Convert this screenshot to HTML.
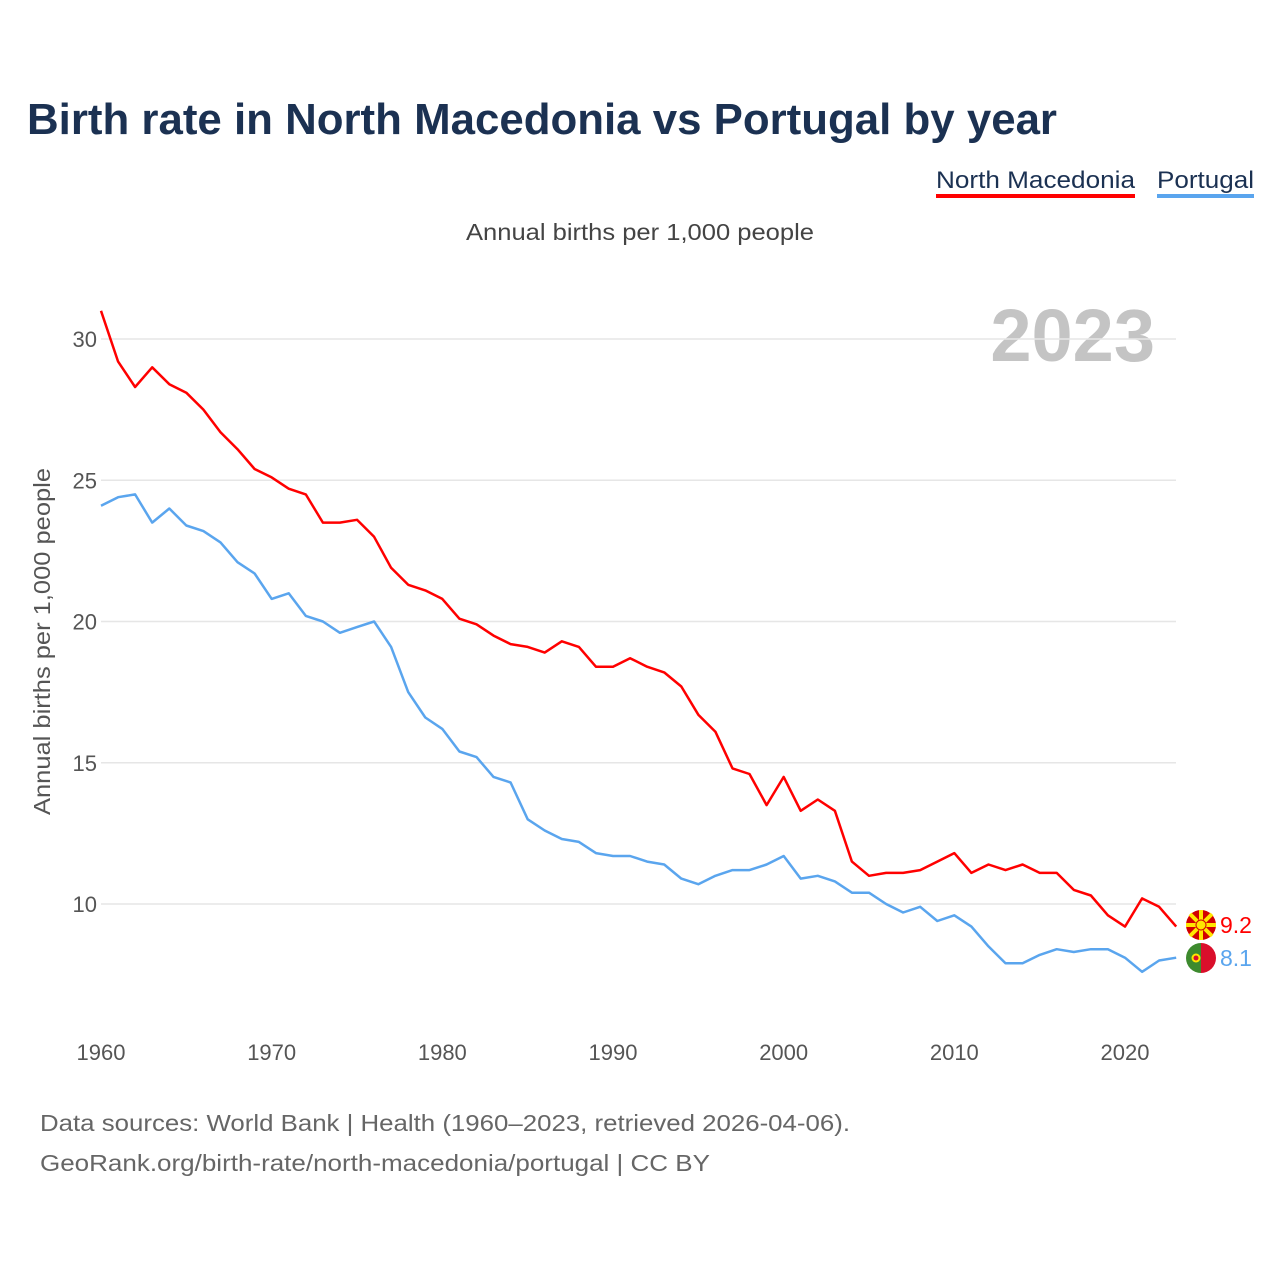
<!DOCTYPE html>
<html><head><meta charset="utf-8"><style>
body{margin:0;background:#fff;width:1280px;height:1280px;overflow:hidden;font-family:"Liberation Sans",sans-serif}
</style></head><body>
<svg width="1280" height="1280" font-family="Liberation Sans, sans-serif">
<text x="27" y="134" font-size="44" font-weight="bold" fill="#1b3152" textLength="1030" lengthAdjust="spacingAndGlyphs">Birth rate in North Macedonia vs Portugal by year</text>
<g>
<text x="936" y="188" font-size="24" fill="#1b3152" textLength="199" lengthAdjust="spacingAndGlyphs">North Macedonia</text>
<rect x="936" y="194" width="199" height="4" fill="#ff0000"/>
<text x="1157" y="188" font-size="24" fill="#1b3152" textLength="97" lengthAdjust="spacingAndGlyphs">Portugal</text>
<rect x="1157" y="194" width="97" height="4" fill="#5aa5ee"/>
</g>
<text x="466" y="240" font-size="23" fill="#444" textLength="348" lengthAdjust="spacingAndGlyphs">Annual births per 1,000 people</text>
<text x="1155" y="361" font-size="74" font-weight="bold" fill="#c4c4c4" text-anchor="end">2023</text>
<text transform="translate(50,815) rotate(-90)" font-size="23" fill="#555" textLength="347" lengthAdjust="spacingAndGlyphs">Annual births per 1,000 people</text>
<g id="grid"></g><g id="series"></g>
<g>
<g>
<circle cx="1201" cy="925" r="15" fill="#d20000"/>
<g stroke="#ffe600" stroke-width="4">
<line x1="1186" y1="925" x2="1216" y2="925"/><line x1="1201" y1="910" x2="1201" y2="940"/>
<line x1="1190" y1="914" x2="1212" y2="936"/><line x1="1212" y1="914" x2="1190" y2="936"/></g>
<circle cx="1201" cy="925" r="5" fill="#ffe600" stroke="#d20000" stroke-width="1"/>
</g>
<text x="1220" y="933" font-size="23" fill="#ff0000">9.2</text>
<g>
<path d="M1201 943 A15 15 0 0 0 1201 973 Z" fill="#3d8a2e"/>
<path d="M1201 943 A15 15 0 0 1 1201 973 Z" fill="#da0f2b"/>
<circle cx="1196" cy="958" r="4.5" fill="#ffe600"/><circle cx="1196" cy="958" r="2.5" fill="#da0f2b"/>
</g>
<text x="1220" y="966" font-size="23" fill="#5aa5ee">8.1</text>
</g>
<text x="40" y="1131" font-size="23" fill="#666" textLength="810" lengthAdjust="spacingAndGlyphs">Data sources: World Bank | Health (1960–2023, retrieved 2026-04-06).</text>
<text x="40" y="1171" font-size="23" fill="#666" textLength="670" lengthAdjust="spacingAndGlyphs">GeoRank.org/birth-rate/north-macedonia/portugal | CC BY</text>
</svg>
<script>
const startYear = 1960;
const yTicks = [10, 15, 20, 25, 30];
const xTicks = [1960, 1970, 1980, 1990, 2000, 2010, 2020];
const northMacedonia = [31.0,29.2,28.3,29.0,28.4,28.1,27.5,26.7,26.1,25.4,25.1,24.7,24.5,23.5,23.5,23.6,23.0,21.9,21.3,21.1,20.8,20.1,19.9,19.5,19.2,19.1,18.9,19.3,19.1,18.4,18.4,18.7,18.4,18.2,17.7,16.7,16.1,14.8,14.6,13.5,14.5,13.3,13.7,13.3,11.5,11.0,11.1,11.1,11.2,11.5,11.8,11.1,11.4,11.2,11.4,11.1,11.1,10.5,10.3,9.6,9.2,10.2,9.9,9.2];
const portugal = [24.1,24.4,24.5,23.5,24.0,23.4,23.2,22.8,22.1,21.7,20.8,21.0,20.2,20.0,19.6,19.8,20.0,19.1,17.5,16.6,16.2,15.4,15.2,14.5,14.3,13.0,12.6,12.3,12.2,11.8,11.7,11.7,11.5,11.4,10.9,10.7,11.0,11.2,11.2,11.4,11.7,10.9,11.0,10.8,10.4,10.4,10.0,9.7,9.9,9.4,9.6,9.2,8.5,7.9,7.9,8.2,8.4,8.3,8.4,8.4,8.1,7.6,8.0,8.1];
const NS="http://www.w3.org/2000/svg";
const xS = yr => 101 + (yr - 1960) * (1024/60);
const yS = v => 904 - (v - 10) * 28.25;
const grid = document.getElementById('grid');
yTicks.forEach(t=>{
  const l=document.createElementNS(NS,'line');
  l.setAttribute('x1',101);l.setAttribute('x2',1176);l.setAttribute('y1',yS(t));l.setAttribute('y2',yS(t));
  l.setAttribute('stroke','#e6e6e6');l.setAttribute('stroke-width','1.5');
  
  
  grid.appendChild(l);
  const tx=document.createElementNS(NS,'text');
  tx.setAttribute('x',97);tx.setAttribute('y',yS(t)+8);tx.setAttribute('text-anchor','end');
  tx.setAttribute('font-size','22');tx.setAttribute('fill','#555');tx.textContent=t;
  
  
  grid.appendChild(tx);
});
xTicks.forEach(t=>{
  const tx=document.createElementNS(NS,'text');
  tx.setAttribute('x',xS(t));tx.setAttribute('y',1060);tx.setAttribute('text-anchor','middle');
  tx.setAttribute('font-size','22');tx.setAttribute('fill','#555');tx.textContent=t;
  
  
  grid.appendChild(tx);
});
const series=document.getElementById('series');
function draw(vals,color,name){
  const p=document.createElementNS(NS,'polyline');
  p.setAttribute('points',vals.map((v,i)=>xS(startYear+i).toFixed(1)+','+yS(v).toFixed(1)).join(' '));
  p.setAttribute('fill','none');p.setAttribute('stroke',color);p.setAttribute('stroke-width','2.5');
  p.setAttribute('stroke-linejoin','round');
  
  
  series.appendChild(p);
}
draw(portugal,'#5aa5ee','line-portugal');
draw(northMacedonia,'#ff0000','line-north-macedonia');
</script>
</body></html>
